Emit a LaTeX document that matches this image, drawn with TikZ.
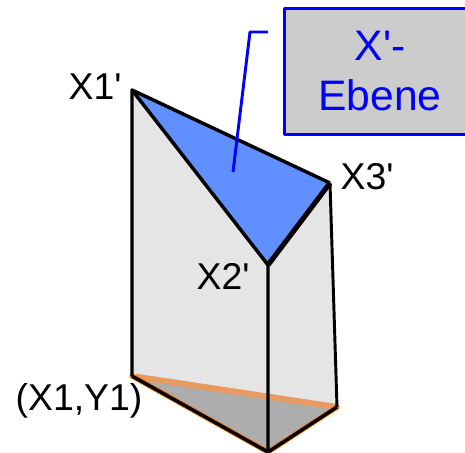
\documentclass[tikz,border=0pt]{standalone}
\usepackage{fontspec}
\newfontfamily\labelfont{Liberation Sans}
\definecolor{faceGray}{HTML}{E5E5E5}
\definecolor{baseGray}{HTML}{ADADAD}
\definecolor{planeBlue}{HTML}{6090FF}
\definecolor{boxGray}{HTML}{CCCCCC}
\definecolor{bandOrange}{HTML}{E89A60}
\definecolor{edgeOrange}{HTML}{FF7A10}
\begin{document}
\begin{tikzpicture}[x=0.75pt, y=-0.75pt, line join=round,
	edge/.style={black, line width=2.6pt},
	pointlabel/.style={black, font=\labelfont\fontsize{28}{32}\selectfont, inner sep=0pt},
	planebox/.style={draw=blue, fill=boxGray, line width=2.3pt, text=blue, align=center,
		font=\labelfont\fontsize{32}{37.5}\selectfont}]
	\useasboundingbox (0,0) rectangle (465,453);
	\clip (0,0) rectangle (465,453);

	% 1. corner points
	\coordinate (X1top) at (132,90);
	\coordinate (X2top) at (268,265);
	\coordinate (X3top) at (330,183);
	\coordinate (X1bot) at (132,376);
	\coordinate (X2bot) at (268,452);
	\coordinate (X3bot) at (337,407);
	\coordinate (leaderA) at (268,32);
	\coordinate (leaderB) at (250,32);
	\coordinate (leaderC) at (233,172);

	% 2. side faces and base
	\fill[faceGray] (X1top) -- (X2top) -- (X2bot) -- (X1bot) -- cycle;
	\fill[faceGray] (X2top) -- (X3top) -- (X3bot) -- (X2bot) -- cycle;
	\fill[baseGray] (X1bot) -- (X3bot) -- (X2bot) -- cycle;
	\draw[bandOrange, line width=4.4pt, shorten <=3pt] (X1bot) -- (X3bot);
	\draw[edgeOrange, line width=3.9pt, line cap=round] (X1bot) -- (X2bot) -- (X3bot);

	% 3. plane and edges
	\fill[planeBlue] (X1top) -- (X2top) -- (X3top) -- cycle;
	\draw[edge] (X1bot) -- (X1top) -- (X3top);
	\draw[edge] (X1top) -- (X2top) -- (X2bot);
	\draw[edge, line width=3.8pt] (X2top) -- (X3top);
	\draw[edge, line width=2.2pt] (X3top) -- (X3bot);
	\draw[edge] (X1bot) -- (X2bot) -- (X3bot);

	% 4. labels and box
	\draw[blue, line width=2.2pt] (leaderA) -- (leaderB) -- (leaderC);
	\node[planebox, minimum width=143.5pt, minimum height=95pt] (ebene) at (380,71.5) {X'-\\Ebene};
	\node[pointlabel] (labelX1) at (95,87) {X1'};
	\node[pointlabel] (labelX2) at (223,276) {X2'};
	\node[pointlabel] (labelX3) at (367,177) {X3'};
	\node[pointlabel] (labelXY) at (79,401) {(X1,Y1)};
\end{tikzpicture}
\end{document}
